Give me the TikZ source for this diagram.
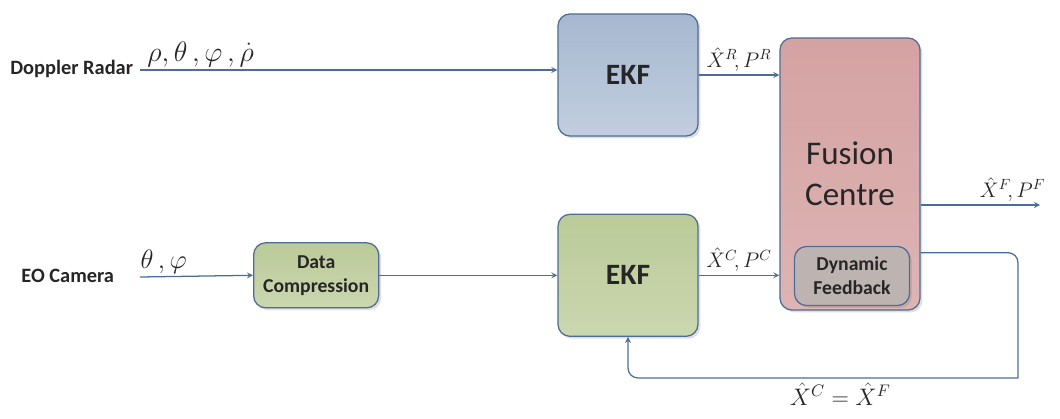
\RequirePackage{fix-cm}
\documentclass[tikz,border=0pt]{standalone}
\usepackage{fontspec}
\setsansfont{Carlito}
\usepackage{tikz}
\usetikzlibrary{arrows,positioning,shadows}
\definecolor{linecolor}{HTML}{4A6E9C}
\definecolor{edgecolor}{HTML}{4F6D94}
\definecolor{radartop}{HTML}{A6B8D0}
\definecolor{radarbot}{HTML}{C2CEDF}
\definecolor{cameratop}{HTML}{BACA98}
\definecolor{camerabot}{HTML}{CBD7B0}
\definecolor{fusetop}{HTML}{D5A2A2}
\definecolor{fusebot}{HTML}{DDB4B4}
\definecolor{feedfill}{HTML}{BDB4B2}
\definecolor{textcolor}{HTML}{262626}

\begin{document}
\begin{tikzpicture}[x=0.025cm, y=-0.025cm,
    box/.style={rectangle, draw=edgecolor, line width=0.9pt, rounded corners=0.3cm, align=center, text=textcolor,
        drop shadow={opacity=0.25, shadow xshift=0.06cm, shadow yshift=-0.06cm}},
    ekf/.style={box, minimum width=3.5cm, minimum height=3.05cm, font=\sffamily\bfseries\fontsize{21}{24}\selectfont},
    smallbox/.style={box, minimum width=3.125cm, minimum height=1.625cm, inner sep=1pt, font=\sffamily\bfseries\fontsize{14}{17}\selectfont},
    fusebox/.style={box, minimum width=3.5cm, minimum height=6.8cm, font=\sffamily\fontsize{23.5}{29}\selectfont},
    lbl/.style={font=\sffamily\bfseries\fontsize{14.5}{17}\selectfont, text=textcolor},
    mathlbl/.style={font=\fontsize{15}{17}\selectfont, text=textcolor, inner sep=2pt},
    arrow/.style={->, >=stealth, draw=linecolor, line width=0.9pt}
]
    \useasboundingbox (0,0) rectangle (1060,419);

    % filters
    \node[ekf, top color=radartop, bottom color=radarbot] (ekfR) at (628,75) {EKF};
    \node[ekf, top color=cameratop, bottom color=camerabot, below=1.925cm of ekfR] (ekfC) {EKF};
    \node[smallbox, top color=cameratop, bottom color=camerabot, left=4.45cm of ekfC] (dc) {Data\\Compression};

    % fusion centre
    \node[fusebox, top color=fusetop, bottom color=fusebot] (fusion) at (850,174) {Fusion\\Centre};
    \node[smallbox, fill=feedfill, minimum width=2.875cm, minimum height=1.475cm] (dyn) at (852,276) {Dynamic\\Feedback};

    % sensors
    \node[lbl, anchor=east] (radar) at (138,69) {Doppler Radar};
    \node[lbl, anchor=east] (camera) at (119,276) {EO Camera};
    \coordinate (radarin) at (140,70);
    \coordinate (camin) at (140,277);

    \draw[arrow] (radarin) -- node[mathlbl, above, pos=0.145, font=\fontsize{20}{22}\selectfont] {$\rho, \theta\,, \varphi\,, \dot{\rho}$} (radarin -| ekfR.west);
    \draw[arrow] (camin) -- node[mathlbl, above, pos=0.21, font=\fontsize{19}{21}\selectfont] {$\theta\,, \varphi$} (dc.west);
    \draw[arrow] (dc) -- (ekfC);

    \draw[arrow] (ekfR.east) -- node[mathlbl, above] {$\hat{X}^R\!, P^R$} (ekfR.east -| fusion.west);
    \draw[arrow] (ekfC.east) -- node[mathlbl, above] {$\hat{X}^C\!, P^C$} (ekfC.east -| fusion.west);

    % output
    \coordinate (out) at (1040,205);
    \draw[arrow] (fusion.east |- out) -- node[mathlbl, above, pos=0.77] {$\hat{X}^F\!, P^F$} (out);

    % feedback loop
    \coordinate (fbstart) at ([yshift=-0.17cm]fusion.east |- dyn.north);
    \coordinate (fbc) at (1018,378);
    \draw[arrow] (fbstart) [rounded corners=0.25cm] -- (fbstart -| fbc) [sharp corners] -- (fbc) [rounded corners=0.25cm]
        -- node[mathlbl, below=1pt, pos=0.456, font=\fontsize{17}{19}\selectfont] {$\hat{X}^C = \hat{X}^F$} (fbc -| ekfC.south) -- (ekfC.south);
\end{tikzpicture}
\end{document}
